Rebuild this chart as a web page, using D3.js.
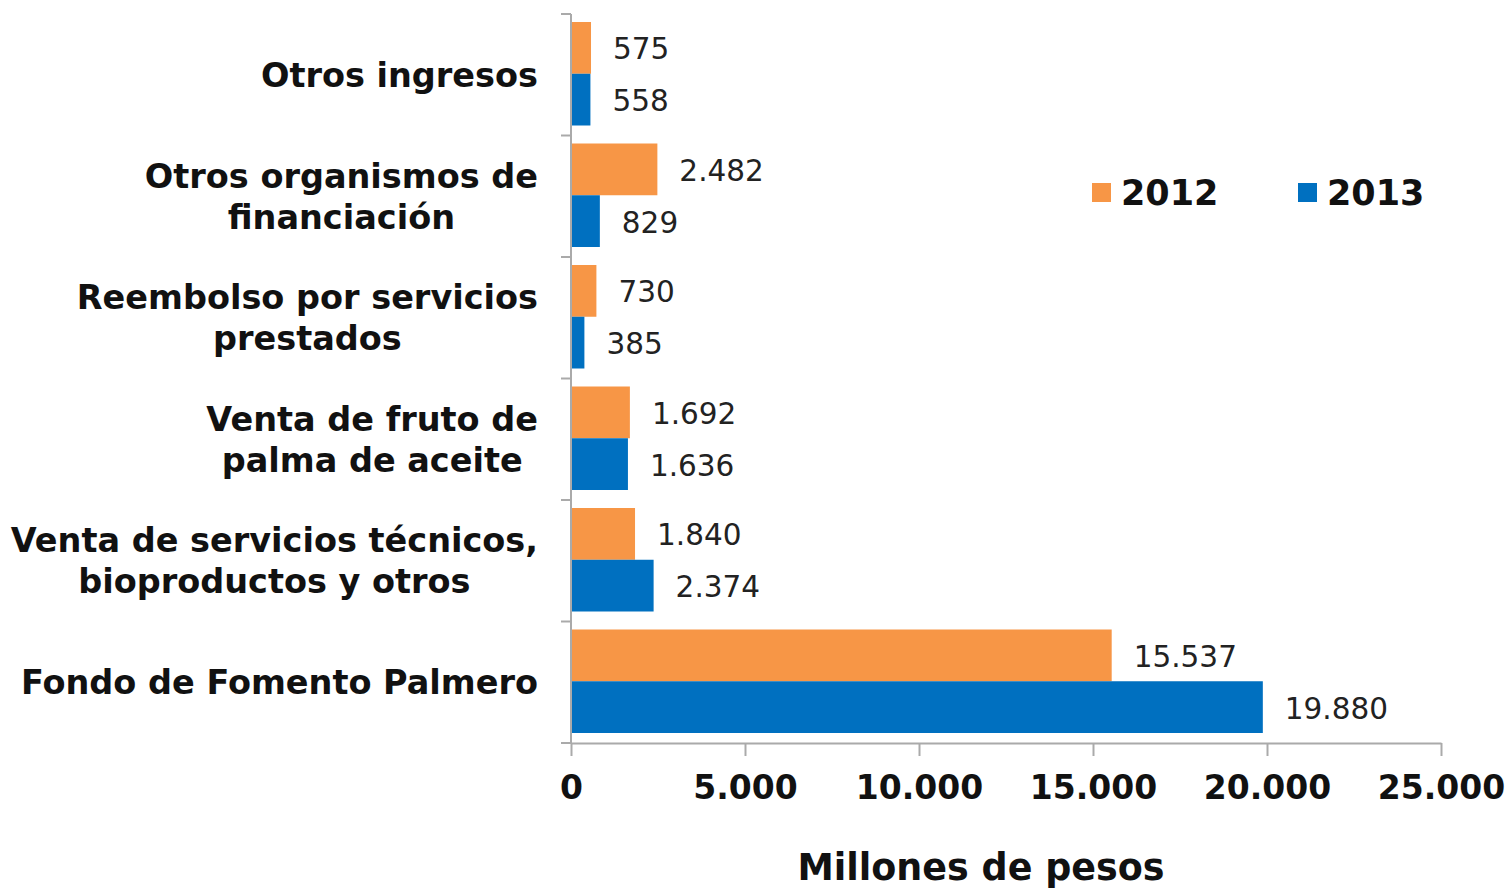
<!DOCTYPE html>
<html>
<head>
<meta charset="utf-8">
<script src="https://cdn.jsdelivr.net/npm/d3@7"></script>
<style>
  body { margin: 0; background: #fff; }
  svg { display: block; font-family: "DejaVu Sans", Verdana, sans-serif; }
</style>
</head>
<body>
<svg width="1510" height="892"></svg>
<script>
// data
var categories = [
    ["Otros ingresos"],
    ["Otros organismos de", "financiación"],
    ["Reembolso por servicios", "prestados"],
    ["Venta de fruto de", "palma de aceite"],
    ["Venta de servicios técnicos,", "bioproductos y otros"],
    ["Fondo de Fomento Palmero"]
];
var series = ["2012", "2013"];
var values2012 = [575, 2482, 730, 1692, 1840, 15537];
var values2013 = [558, 829, 385, 1636, 2374, 19880];
var xTicks = [0, 5000, 10000, 15000, 20000, 25000];
var axisTitle = "Millones de pesos";

var colors = { "2012": "#F79646", "2013": "#0070C0" };

var svg = d3.select("svg");
var plotLeft = 571, plotRight = 1441, plotTop = 14, plotBottom = 743;

var fmt = d3.formatLocale({ decimal: ",", thousands: ".", grouping: [3], currency: ["$", ""] }).format(",d");

var x = d3.scaleLinear().domain([0, 25000]).range([plotLeft, plotRight]);
var y = d3.scaleBand().domain(d3.range(categories.length)).range([plotTop, plotBottom]);
var inner = d3.scaleBand().domain(series).range([8, y.bandwidth() - 10]);

var rows = categories.map(function (c, i) {
    return { i: i, lines: c, vals: [values2012[i], values2013[i]] };
});

// bars
var g = svg.append("g");
rows.forEach(function (r) {
    series.forEach(function (s, k) {
        var v = r.vals[k];
        var yy = y(r.i) + inner(s);
        g.append("rect")
            .attr("x", x(0))
            .attr("y", yy)
            .attr("width", x(v) - x(0))
            .attr("height", inner.bandwidth())
            .attr("fill", colors[s]);
        g.append("text")
            .attr("x", x(v) + 22)
            .attr("y", yy + inner.bandwidth() / 2 + 1)
            .attr("dy", "0.36em")
            .attr("font-size", 29.5)
            .attr("fill", "#222")
            .text(fmt(v));
    });
});

// axes
var xAxis = svg.append("g")
    .attr("transform", "translate(0," + plotBottom + ")")
    .call(d3.axisBottom(x).tickValues(xTicks).tickFormat(fmt).tickSizeInner(13).tickSizeOuter(0).tickPadding(20));
xAxis.select(".domain").attr("stroke", "#aaa").attr("stroke-width", 2);
xAxis.selectAll(".tick line").attr("stroke", "#aaa").attr("stroke-width", 2);
xAxis.selectAll(".tick text")
    .attr("font-family", "DejaVu Sans")
    .attr("font-size", 33)
    .attr("font-weight", "bold")
    .attr("fill", "#111");

var yAxis = svg.append("g");
yAxis.append("line")
    .attr("x1", plotLeft).attr("x2", plotLeft)
    .attr("y1", plotTop).attr("y2", plotBottom)
    .attr("stroke", "#aaa").attr("stroke-width", 2);
yAxis.selectAll(".bt")
    .data(d3.range(categories.length + 1))
    .enter().append("line")
    .attr("x1", plotLeft - 10).attr("x2", plotLeft)
    .attr("y1", function (d) { return plotTop + d * y.step(); })
    .attr("y2", function (d) { return plotTop + d * y.step(); })
    .attr("stroke", "#aaa").attr("stroke-width", 2);

// category labels: lines centred on each other, block right-aligned
rows.forEach(function (r) {
    var t = svg.append("text")
        .attr("font-size", 33.5)
        .attr("font-weight", "bold")
        .attr("fill", "#111")
        .attr("text-anchor", "middle");
    var n = r.lines.length, lh = 41;
    var cy = y(r.i) + y.bandwidth() / 2;
    var spans = r.lines.map(function (l, j) {
        return t.append("tspan")
            .attr("y", cy + (j - (n - 1) / 2) * lh)
            .attr("dy", "0.36em")
            .text(l);
    });
    var w = d3.max(spans, function (s) { return s.node().getComputedTextLength(); });
    spans.forEach(function (s) { s.attr("x", 538 - w / 2); });
});

// legend
var legend = svg.append("g");
var lx = { "2012": 1092, "2013": 1298 };
series.forEach(function (s) {
    legend.append("rect")
        .attr("x", lx[s]).attr("y", 183)
        .attr("width", 19).attr("height", 19)
        .attr("fill", colors[s]);
    legend.append("text")
        .attr("x", lx[s] + 29).attr("y", 205)
        .attr("font-size", 35)
        .attr("font-weight", "bold")
        .attr("fill", "#111")
        .text(s);
});

// axis title
svg.append("text")
    .attr("x", 981).attr("y", 880)
    .attr("text-anchor", "middle")
    .attr("font-size", 36.5)
    .attr("font-weight", "bold")
    .attr("fill", "#111")
    .text(axisTitle);
</script>
</body>
</html>
